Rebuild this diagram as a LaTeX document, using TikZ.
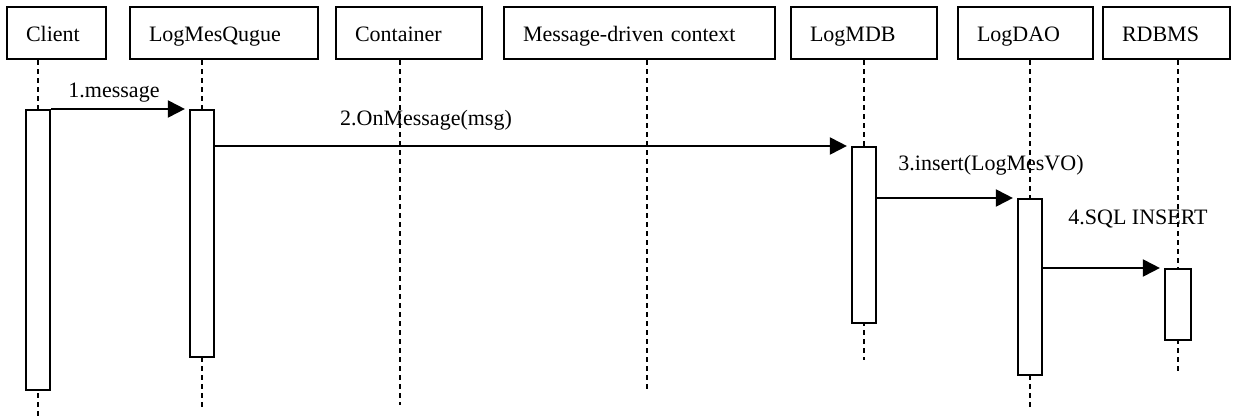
\documentclass[tikz,border=0pt]{standalone}
\usepackage{fontspec}
\setmainfont{Liberation Serif}
\usetikzlibrary{arrows.meta}
\begin{document}
\begin{tikzpicture}[x=1pt,y=-1pt,
  hdr/.style={draw, line width=2.2pt, fill=white, minimum height=52pt, inner xsep=19pt, inner ysep=0pt, text height=23pt, text depth=5pt, align=left, font=\fontsize{22}{25}\selectfont},
  act/.style={draw, line width=2.2pt, fill=white, minimum width=24pt, inner sep=0pt, anchor=north},
  life/.style={line width=2.4pt, dash pattern=on 5pt off 4pt},
  msg/.style={line width=2pt, -{Triangle[length=17pt,width=17pt]}, shorten >=4pt},
  lbl/.style={font=\fontsize{22}{25}\selectfont, inner sep=0pt}]
\fill[white] (0,0) rectangle (1239,419);
\useasboundingbox (0,0) rectangle (1239,419);

% header boxes
\node[hdr, text width=61pt]  (client) at (56.5,33)  {Client};
\node[hdr, text width=150pt] (queue)  at (224,33)   {LogMesQugue};
\node[hdr, text width=108pt] (cont)   at (409,33)   {Container};
\node[hdr, text width=233pt] (mdc)    at (639.5,33) {Message-driven context};
\node[hdr, text width=108pt] (mdb)    at (864,33)   {LogMDB};
\node[hdr, text width=97pt]  (dao)    at (1025.5,33){LogDAO};
\node[hdr, text width=89pt]  (rdbms)  at (1166.5,33){RDBMS};

% lifeline ends
\coordinate (cend) at (38,419);
\coordinate (qend) at (202,410);
\coordinate (kend) at (400,405);
\coordinate (mend) at (647,390);
\coordinate (bend) at (864,360);
\coordinate (dend) at (1030,408);
\coordinate (rend) at (1178,375);

\draw[life] (client.south -| cend) -- (cend);
\draw[life] (queue.south -| qend) -- (qend);
\draw[life] (cont.south -| kend) -- (kend);
\draw[life] (mdc.south -| mend) -- (mend);
\draw[life] (mdb.south -| bend) -- (bend);
\draw[life] (dao.south -| dend) -- (dend);
\draw[life] (rdbms.south -| rend) -- (rend);

% activations
\node[act, minimum height=280pt] (cact) at (38,109) {};
\node[act, minimum height=247pt] (qact) at (202,109) {};
\node[act, minimum height=176pt] (bact) at (864,146) {};
\node[act, minimum height=176pt] (dact) at (1030,198) {};
\node[act, minimum height=71pt, minimum width=26pt] (ract) at (1178,268) {};

% messages
\draw[msg] (cact.north east) -- (qact.north west);
\draw[msg] (qact.east |- bact.north west) -- (bact.north west);
\draw[msg] (bact.east |- dact.north west) -- (dact.north west);
\draw[msg] (dact.east |- ract.north west) -- (ract.north west);

% labels
\node[lbl] (l1) at (114,93)  {1.message};
\node[lbl] (l2) at (426,120) {2.OnMessage(msg)};
\node[lbl] (l3) at (991,165) {3.insert(LogMesVO)};
\node[lbl] (l4) at (1138,219) {4.SQL INSERT};
\end{tikzpicture}
\end{document}
